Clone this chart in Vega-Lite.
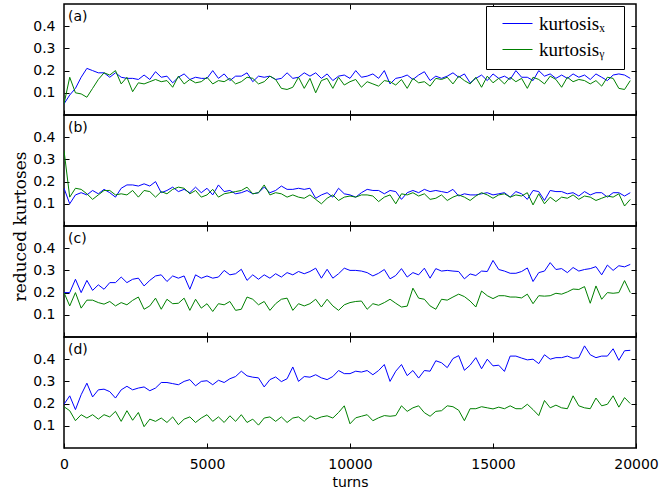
{
"$schema": "https://vega.github.io/schema/vega-lite/v6.json",
"background": "white",
"padding": {"left": 10, "top": 2, "right": 2, "bottom": 5},
"data": {"values": [
{"t":0,"ax":0.05,"ay":0.05,"bx":0.17,"by":0.34,"cx":0.2,"cy":0.2,"dx":0.197,"dy":0.186},
{"t":200,"ax":0.09,"ay":0.17,"bx":0.10,"by":0.13,"cx":0.2,"cy":0.14,"dx":0.235,"dy":0.168},
{"t":400,"ax":0.12,"ay":0.10,"bx":0.14,"by":0.17,"cx":0.26,"cy":0.2,"dx":0.173,"dy":0.123},
{"t":600,"ax":0.17,"ay":0.095,"bx":0.15,"by":0.165,"cx":0.2,"cy":0.13,"dx":0.24,"dy":0.15},
{"t":800,"ax":0.21,"ay":0.08,"bx":0.14,"by":0.145,"cx":0.255,"cy":0.166,"dx":0.292,"dy":0.135},
{"t":1000,"ax":0.20,"ay":0.12,"bx":0.16,"by":0.12,"cx":0.21,"cy":0.166,"dx":0.23,"dy":0.15},
{"t":1200,"ax":0.19,"ay":0.16,"bx":0.145,"by":0.14,"cx":0.235,"cy":0.155,"dx":0.262,"dy":0.13},
{"t":1400,"ax":0.19,"ay":0.19,"bx":0.165,"by":0.16,"cx":0.215,"cy":0.148,"dx":0.265,"dy":0.15},
{"t":1600,"ax":0.17,"ay":0.18,"bx":0.15,"by":0.16,"cx":0.245,"cy":0.16,"dx":0.254,"dy":0.14},
{"t":1800,"ax":0.19,"ay":0.20,"bx":0.13,"by":0.14,"cx":0.245,"cy":0.14,"dx":0.225,"dy":0.165},
{"t":2000,"ax":0.17,"ay":0.14,"bx":0.17,"by":0.145,"cx":0.27,"cy":0.155,"dx":0.262,"dy":0.12},
{"t":2200,"ax":0.165,"ay":0.17,"bx":0.185,"by":0.14,"cx":0.245,"cy":0.145,"dx":0.278,"dy":0.168},
{"t":2400,"ax":0.165,"ay":0.105,"bx":0.185,"by":0.16,"cx":0.26,"cy":0.165,"dx":0.262,"dy":0.125},
{"t":2600,"ax":0.16,"ay":0.145,"bx":0.18,"by":0.13,"cx":0.265,"cy":0.18,"dx":0.27,"dy":0.16},
{"t":2800,"ax":0.18,"ay":0.14,"bx":0.19,"by":0.16,"cx":0.23,"cy":0.125,"dx":0.275,"dy":0.096},
{"t":3000,"ax":0.16,"ay":0.15,"bx":0.18,"by":0.155,"cx":0.255,"cy":0.14,"dx":0.258,"dy":0.13},
{"t":3200,"ax":0.195,"ay":0.16,"bx":0.20,"by":0.13,"cx":0.275,"cy":0.175,"dx":0.27,"dy":0.12},
{"t":3400,"ax":0.17,"ay":0.15,"bx":0.15,"by":0.155,"cx":0.28,"cy":0.125,"dx":0.295,"dy":0.135},
{"t":3600,"ax":0.175,"ay":0.155,"bx":0.16,"by":0.145,"cx":0.25,"cy":0.17,"dx":0.295,"dy":0.115},
{"t":3800,"ax":0.145,"ay":0.125,"bx":0.175,"by":0.165,"cx":0.275,"cy":0.15,"dx":0.29,"dy":0.14},
{"t":4000,"ax":0.17,"ay":0.175,"bx":0.155,"by":0.175,"cx":0.265,"cy":0.152,"dx":0.285,"dy":0.105},
{"t":4200,"ax":0.185,"ay":0.14,"bx":0.165,"by":0.17,"cx":0.275,"cy":0.175,"dx":0.3,"dy":0.13},
{"t":4400,"ax":0.16,"ay":0.16,"bx":0.15,"by":0.145,"cx":0.215,"cy":0.12,"dx":0.308,"dy":0.14},
{"t":4600,"ax":0.17,"ay":0.145,"bx":0.175,"by":0.16,"cx":0.28,"cy":0.17,"dx":0.28,"dy":0.115},
{"t":4800,"ax":0.165,"ay":0.15,"bx":0.15,"by":0.13,"cx":0.265,"cy":0.13,"dx":0.3,"dy":0.135},
{"t":5000,"ax":0.165,"ay":0.17,"bx":0.17,"by":0.14,"cx":0.275,"cy":0.15,"dx":0.303,"dy":0.15},
{"t":5200,"ax":0.2,"ay":0.14,"bx":0.14,"by":0.165,"cx":0.265,"cy":0.115,"dx":0.285,"dy":0.12},
{"t":5400,"ax":0.165,"ay":0.155,"bx":0.185,"by":0.13,"cx":0.27,"cy":0.15,"dx":0.305,"dy":0.14},
{"t":5600,"ax":0.185,"ay":0.15,"bx":0.155,"by":0.145,"cx":0.3,"cy":0.145,"dx":0.295,"dy":0.115},
{"t":5800,"ax":0.155,"ay":0.165,"bx":0.16,"by":0.15,"cx":0.28,"cy":0.16,"dx":0.312,"dy":0.145},
{"t":6000,"ax":0.175,"ay":0.14,"bx":0.145,"by":0.155,"cx":0.285,"cy":0.12,"dx":0.322,"dy":0.12},
{"t":6200,"ax":0.175,"ay":0.15,"bx":0.15,"by":0.16,"cx":0.305,"cy":0.125,"dx":0.346,"dy":0.15},
{"t":6400,"ax":0.19,"ay":0.17,"bx":0.16,"by":0.175,"cx":0.255,"cy":0.18,"dx":0.325,"dy":0.115},
{"t":6600,"ax":0.15,"ay":0.165,"bx":0.145,"by":0.145,"cx":0.28,"cy":0.17,"dx":0.319,"dy":0.13},
{"t":6800,"ax":0.175,"ay":0.14,"bx":0.15,"by":0.15,"cx":0.26,"cy":0.145,"dx":0.316,"dy":0.103},
{"t":7000,"ax":0.17,"ay":0.15,"bx":0.175,"by":0.185,"cx":0.28,"cy":0.16,"dx":0.275,"dy":0.135},
{"t":7200,"ax":0.175,"ay":0.175,"bx":0.15,"by":0.14,"cx":0.265,"cy":0.12,"dx":0.308,"dy":0.14},
{"t":7400,"ax":0.16,"ay":0.16,"bx":0.16,"by":0.15,"cx":0.285,"cy":0.15,"dx":0.32,"dy":0.12},
{"t":7600,"ax":0.165,"ay":0.12,"bx":0.18,"by":0.145,"cx":0.27,"cy":0.17,"dx":0.299,"dy":0.14},
{"t":7800,"ax":0.19,"ay":0.115,"bx":0.165,"by":0.13,"cx":0.29,"cy":0.175,"dx":0.312,"dy":0.115},
{"t":8000,"ax":0.165,"ay":0.125,"bx":0.165,"by":0.14,"cx":0.28,"cy":0.12,"dx":0.365,"dy":0.135},
{"t":8200,"ax":0.17,"ay":0.17,"bx":0.17,"by":0.13,"cx":0.295,"cy":0.15,"dx":0.3,"dy":0.14},
{"t":8400,"ax":0.19,"ay":0.12,"bx":0.165,"by":0.125,"cx":0.285,"cy":0.14,"dx":0.322,"dy":0.12},
{"t":8600,"ax":0.175,"ay":0.165,"bx":0.17,"by":0.14,"cx":0.295,"cy":0.15,"dx":0.319,"dy":0.145},
{"t":8800,"ax":0.19,"ay":0.10,"bx":0.125,"by":0.12,"cx":0.31,"cy":0.17,"dx":0.33,"dy":0.13},
{"t":9000,"ax":0.165,"ay":0.155,"bx":0.14,"by":0.10,"cx":0.265,"cy":0.135,"dx":0.316,"dy":0.14},
{"t":9200,"ax":0.185,"ay":0.165,"bx":0.15,"by":0.125,"cx":0.305,"cy":0.17,"dx":0.308,"dy":0.145},
{"t":9400,"ax":0.155,"ay":0.12,"bx":0.13,"by":0.14,"cx":0.265,"cy":0.14,"dx":0.322,"dy":0.135},
{"t":9600,"ax":0.175,"ay":0.17,"bx":0.17,"by":0.115,"cx":0.285,"cy":0.12,"dx":0.349,"dy":0.16},
{"t":9800,"ax":0.18,"ay":0.135,"bx":0.145,"by":0.13,"cx":0.31,"cy":0.145,"dx":0.335,"dy":0.19},
{"t":10000,"ax":0.165,"ay":0.15,"bx":0.14,"by":0.135,"cx":0.3,"cy":0.155,"dx":0.335,"dy":0.109},
{"t":10200,"ax":0.2,"ay":0.16,"bx":0.13,"by":0.13,"cx":0.3,"cy":0.16,"dx":0.346,"dy":0.136},
{"t":10400,"ax":0.17,"ay":0.125,"bx":0.15,"by":0.14,"cx":0.297,"cy":0.162,"dx":0.342,"dy":0.143},
{"t":10600,"ax":0.175,"ay":0.15,"bx":0.165,"by":0.14,"cx":0.29,"cy":0.125,"dx":0.349,"dy":0.15},
{"t":10800,"ax":0.185,"ay":0.14,"bx":0.16,"by":0.135,"cx":0.275,"cy":0.15,"dx":0.33,"dy":0.123},
{"t":11000,"ax":0.165,"ay":0.13,"bx":0.16,"by":0.11,"cx":0.287,"cy":0.143,"dx":0.349,"dy":0.136},
{"t":11200,"ax":0.2,"ay":0.155,"bx":0.145,"by":0.13,"cx":0.304,"cy":0.155,"dx":0.376,"dy":0.146},
{"t":11400,"ax":0.14,"ay":0.15,"bx":0.16,"by":0.14,"cx":0.262,"cy":0.17,"dx":0.3,"dy":0.143},
{"t":11600,"ax":0.165,"ay":0.135,"bx":0.155,"by":0.10,"cx":0.277,"cy":0.152,"dx":0.346,"dy":0.146},
{"t":11800,"ax":0.17,"ay":0.16,"bx":0.12,"by":0.145,"cx":0.308,"cy":0.135,"dx":0.376,"dy":0.19},
{"t":12000,"ax":0.18,"ay":0.12,"bx":0.15,"by":0.14,"cx":0.27,"cy":0.139,"dx":0.326,"dy":0.165},
{"t":12200,"ax":0.16,"ay":0.165,"bx":0.16,"by":0.15,"cx":0.29,"cy":0.22,"dx":0.349,"dy":0.181},
{"t":12400,"ax":0.18,"ay":0.145,"bx":0.15,"by":0.135,"cx":0.28,"cy":0.175,"dx":0.315,"dy":0.19},
{"t":12600,"ax":0.195,"ay":0.15,"bx":0.165,"by":0.145,"cx":0.31,"cy":0.17,"dx":0.349,"dy":0.159},
{"t":12800,"ax":0.155,"ay":0.13,"bx":0.155,"by":0.12,"cx":0.265,"cy":0.14,"dx":0.346,"dy":0.143},
{"t":13000,"ax":0.175,"ay":0.165,"bx":0.16,"by":0.125,"cx":0.308,"cy":0.125,"dx":0.393,"dy":0.165},
{"t":13200,"ax":0.165,"ay":0.16,"bx":0.155,"by":0.14,"cx":0.297,"cy":0.17,"dx":0.384,"dy":0.168},
{"t":13400,"ax":0.175,"ay":0.17,"bx":0.15,"by":0.115,"cx":0.3,"cy":0.166,"dx":0.362,"dy":0.19},
{"t":13600,"ax":0.19,"ay":0.14,"bx":0.165,"by":0.13,"cx":0.297,"cy":0.18,"dx":0.403,"dy":0.186},
{"t":13800,"ax":0.17,"ay":0.175,"bx":0.135,"by":0.14,"cx":0.295,"cy":0.193,"dx":0.416,"dy":0.17},
{"t":14000,"ax":0.185,"ay":0.155,"bx":0.145,"by":0.13,"cx":0.262,"cy":0.182,"dx":0.35,"dy":0.123},
{"t":14200,"ax":0.145,"ay":0.14,"bx":0.14,"by":0.115,"cx":0.284,"cy":0.162,"dx":0.373,"dy":0.177},
{"t":14400,"ax":0.165,"ay":0.17,"bx":0.14,"by":0.135,"cx":0.277,"cy":0.135,"dx":0.407,"dy":0.177},
{"t":14600,"ax":0.18,"ay":0.125,"bx":0.145,"by":0.15,"cx":0.297,"cy":0.207,"dx":0.357,"dy":0.186},
{"t":14800,"ax":0.155,"ay":0.175,"bx":0.15,"by":0.14,"cx":0.295,"cy":0.186,"dx":0.4,"dy":0.181},
{"t":15000,"ax":0.185,"ay":0.145,"bx":0.14,"by":0.125,"cx":0.345,"cy":0.173,"dx":0.37,"dy":0.176},
{"t":15200,"ax":0.165,"ay":0.165,"bx":0.145,"by":0.14,"cx":0.304,"cy":0.186,"dx":0.373,"dy":0.184},
{"t":15400,"ax":0.175,"ay":0.14,"bx":0.15,"by":0.145,"cx":0.297,"cy":0.186,"dx":0.345,"dy":0.177},
{"t":15600,"ax":0.16,"ay":0.17,"bx":0.13,"by":0.13,"cx":0.287,"cy":0.18,"dx":0.414,"dy":0.19},
{"t":15800,"ax":0.2,"ay":0.15,"bx":0.155,"by":0.14,"cx":0.287,"cy":0.18,"dx":0.414,"dy":0.177},
{"t":16000,"ax":0.17,"ay":0.165,"bx":0.145,"by":0.135,"cx":0.295,"cy":0.176,"dx":0.405,"dy":0.177},
{"t":16200,"ax":0.17,"ay":0.12,"bx":0.12,"by":0.15,"cx":0.311,"cy":0.193,"dx":0.397,"dy":0.197},
{"t":16400,"ax":0.155,"ay":0.17,"bx":0.16,"by":0.095,"cx":0.25,"cy":0.15,"dx":0.4,"dy":0.173},
{"t":16600,"ax":0.2,"ay":0.16,"bx":0.155,"by":0.145,"cx":0.29,"cy":0.186,"dx":0.38,"dy":0.146},
{"t":16800,"ax":0.175,"ay":0.14,"bx":0.115,"by":0.10,"cx":0.297,"cy":0.184,"dx":0.42,"dy":0.214},
{"t":17000,"ax":0.185,"ay":0.175,"bx":0.16,"by":0.13,"cx":0.335,"cy":0.186,"dx":0.4,"dy":0.181},
{"t":17200,"ax":0.165,"ay":0.16,"bx":0.155,"by":0.11,"cx":0.304,"cy":0.197,"dx":0.407,"dy":0.193},
{"t":17400,"ax":0.18,"ay":0.125,"bx":0.155,"by":0.13,"cx":0.308,"cy":0.193,"dx":0.407,"dy":0.181},
{"t":17600,"ax":0.165,"ay":0.17,"bx":0.145,"by":0.125,"cx":0.29,"cy":0.203,"dx":0.414,"dy":0.177},
{"t":17800,"ax":0.185,"ay":0.15,"bx":0.15,"by":0.14,"cx":0.313,"cy":0.216,"dx":0.404,"dy":0.235},
{"t":18000,"ax":0.17,"ay":0.16,"bx":0.135,"by":0.12,"cx":0.297,"cy":0.214,"dx":0.407,"dy":0.19},
{"t":18200,"ax":0.18,"ay":0.155,"bx":0.155,"by":0.135,"cx":0.304,"cy":0.227,"dx":0.46,"dy":0.181},
{"t":18400,"ax":0.16,"ay":0.14,"bx":0.14,"by":0.13,"cx":0.308,"cy":0.152,"dx":0.42,"dy":0.177},
{"t":18600,"ax":0.185,"ay":0.155,"bx":0.15,"by":0.115,"cx":0.317,"cy":0.23,"dx":0.407,"dy":0.225},
{"t":18800,"ax":0.17,"ay":0.13,"bx":0.15,"by":0.125,"cx":0.28,"cy":0.17,"dx":0.414,"dy":0.19},
{"t":19000,"ax":0.155,"ay":0.17,"bx":0.13,"by":0.135,"cx":0.324,"cy":0.2,"dx":0.414,"dy":0.197},
{"t":19200,"ax":0.18,"ay":0.165,"bx":0.15,"by":0.13,"cx":0.3,"cy":0.197,"dx":0.447,"dy":0.235},
{"t":19400,"ax":0.185,"ay":0.12,"bx":0.15,"by":0.145,"cx":0.321,"cy":0.2,"dx":0.395,"dy":0.184},
{"t":19600,"ax":0.18,"ay":0.115,"bx":0.135,"by":0.09,"cx":0.316,"cy":0.254,"dx":0.438,"dy":0.227},
{"t":19800,"ax":0.165,"ay":0.155,"bx":0.15,"by":0.12,"cx":0.327,"cy":0.2,"dx":0.44,"dy":0.2}
]},
"spacing": 0,
"bounds": "flush",
"resolve": {"scale": {"color": "independent"}, "legend": {"color": "independent"}},
"vconcat": [
{
"width": 572, "height": 111,
"title": {"text": "(a)"},
"transform": [{"fold": ["ax", "ay"], "as": ["s", "v"]}],
"layer": [
{"mark": {"type": "line", "strokeWidth": 1, "clip": true},
"encoding": {
"x": {"field": "t", "type": "quantitative", "scale": {"domain": [0, 20000]}, "axis": {"orient": "bottom", "values": [0, 5000, 10000, 15000, 20000], "labels": false, "title": null}},
"y": {"field": "v", "type": "quantitative", "scale": {"domain": [0.045, 0.5]}, "axis": {"orient": "left", "values": [0.1, 0.2, 0.3, 0.4], "format": ".1f", "title": null}},
"color": {"field": "s", "type": "nominal", "scale": {"domain": ["ax", "ay"], "range": ["#0000ff", "#008000"]},
"legend": {"orient": "none", "legendX": 422, "legendY": 2, "title": "\u00a0", "titleOrient": "right", "titlePadding": 10, "titleFontSize": 8, "labelExpr": "datum.label == 'ax' ? 'kurtosisₓ' : 'kurtosisᵧ'", "labelFont": "Liberation Serif", "labelFontSize": 19, "labelColor": "black", "symbolType": "stroke", "symbolSize": 900, "symbolStrokeWidth": 1, "strokeColor": "black", "fillColor": "white", "padding": 9, "clipHeight": 17, "rowPadding": 6, "labelOffset": 6, "symbolOffset": 7, "cornerRadius": 0}}
}},
{"mark": {"type": "point", "opacity": 0},
"encoding": {
"x": {"field": "t", "type": "quantitative", "axis": {"orient": "top", "values": [5000, 10000, 15000], "labels": false, "title": null}},
"y": {"field": "v", "type": "quantitative", "axis": {"orient": "right", "values": [0.1, 0.2, 0.3, 0.4], "labels": false, "title": null}}
}}
],
"resolve": {"axis": {"x": "independent", "y": "independent"}}
},
{
"width": 572, "height": 111,
"title": {"text": "(b)"},
"transform": [{"fold": ["bx", "by"], "as": ["s", "v"]}],
"layer": [
{"mark": {"type": "line", "strokeWidth": 1, "clip": true},
"encoding": {
"x": {"field": "t", "type": "quantitative", "scale": {"domain": [0, 20000]}, "axis": {"orient": "bottom", "values": [0, 5000, 10000, 15000, 20000], "labels": false, "title": null}},
"y": {"field": "v", "type": "quantitative", "scale": {"domain": [0.045, 0.5]}, "axis": {"orient": "left", "values": [0.1, 0.2, 0.3, 0.4], "format": ".1f", "title": "reduced kurtoses", "titleFont": "DejaVu Serif", "titleFontSize": 17, "titleFontWeight": "normal", "titleColor": "black", "titleX": -39, "titleY": 111, "titleAngle": -90, "titleAlign": "center", "titleBaseline": "alphabetic"}},
"color": {"field": "s", "type": "nominal", "scale": {"domain": ["bx", "by"], "range": ["#0000ff", "#008000"]}, "legend": null}
}},
{"mark": {"type": "point", "opacity": 0},
"encoding": {
"x": {"field": "t", "type": "quantitative", "axis": {"orient": "top", "values": [5000, 10000, 15000], "labels": false, "title": null}},
"y": {"field": "v", "type": "quantitative", "axis": {"orient": "right", "values": [0.1, 0.2, 0.3, 0.4], "labels": false, "title": null}}
}}
],
"resolve": {"axis": {"x": "independent", "y": "independent"}}
},
{
"width": 572, "height": 111,
"title": {"text": "(c)"},
"transform": [{"fold": ["cx", "cy"], "as": ["s", "v"]}],
"layer": [
{"mark": {"type": "line", "strokeWidth": 1, "clip": true},
"encoding": {
"x": {"field": "t", "type": "quantitative", "scale": {"domain": [0, 20000]}, "axis": {"orient": "bottom", "values": [0, 5000, 10000, 15000, 20000], "labels": false, "title": null}},
"y": {"field": "v", "type": "quantitative", "scale": {"domain": [0.045, 0.5]}, "axis": {"orient": "left", "values": [0.1, 0.2, 0.3, 0.4], "format": ".1f", "title": null}},
"color": {"field": "s", "type": "nominal", "scale": {"domain": ["cx", "cy"], "range": ["#0000ff", "#008000"]}, "legend": null}
}},
{"mark": {"type": "point", "opacity": 0},
"encoding": {
"x": {"field": "t", "type": "quantitative", "axis": {"orient": "top", "values": [5000, 10000, 15000], "labels": false, "title": null}},
"y": {"field": "v", "type": "quantitative", "axis": {"orient": "right", "values": [0.1, 0.2, 0.3, 0.4], "labels": false, "title": null}}
}}
],
"resolve": {"axis": {"x": "independent", "y": "independent"}}
},
{
"width": 572, "height": 111,
"title": {"text": "(d)"},
"transform": [{"fold": ["dx", "dy"], "as": ["s", "v"]}],
"layer": [
{"mark": {"type": "line", "strokeWidth": 1, "clip": true},
"encoding": {
"x": {"field": "t", "type": "quantitative", "scale": {"domain": [0, 20000]}, "axis": {"orient": "bottom", "values": [0, 5000, 10000, 15000, 20000], "format": "d", "title": "turns", "titleFont": "DejaVu Sans", "titleFontSize": 14, "titleFontWeight": "normal", "titleColor": "black", "titlePadding": 4}},
"y": {"field": "v", "type": "quantitative", "scale": {"domain": [0.045, 0.5]}, "axis": {"orient": "left", "values": [0.1, 0.2, 0.3, 0.4], "format": ".1f", "title": null}},
"color": {"field": "s", "type": "nominal", "scale": {"domain": ["dx", "dy"], "range": ["#0000ff", "#008000"]}, "legend": null}
}},
{"mark": {"type": "point", "opacity": 0},
"encoding": {
"x": {"field": "t", "type": "quantitative", "axis": {"orient": "top", "values": [5000, 10000, 15000], "labels": false, "title": null}},
"y": {"field": "v", "type": "quantitative", "axis": {"orient": "right", "values": [0.1, 0.2, 0.3, 0.4], "labels": false, "title": null}}
}}
],
"resolve": {"axis": {"x": "independent", "y": "independent"}}
}
],
"config": {
"view": {"stroke": "black", "strokeWidth": 1.5},
"axis": {"domain": false, "grid": false, "tickColor": "black", "tickSize": -5, "tickWidth": 1, "labelFont": "DejaVu Sans", "labelFontSize": 14, "labelColor": "black", "labelFlush": false, "labelOverlap": false, "labelPadding": 14},
"title": {"anchor": "start", "frame": "group", "offset": -20, "dx": 4, "font": "DejaVu Sans", "fontSize": 14, "fontWeight": "normal", "color": "black", "baseline": "alphabetic"}
}
}
